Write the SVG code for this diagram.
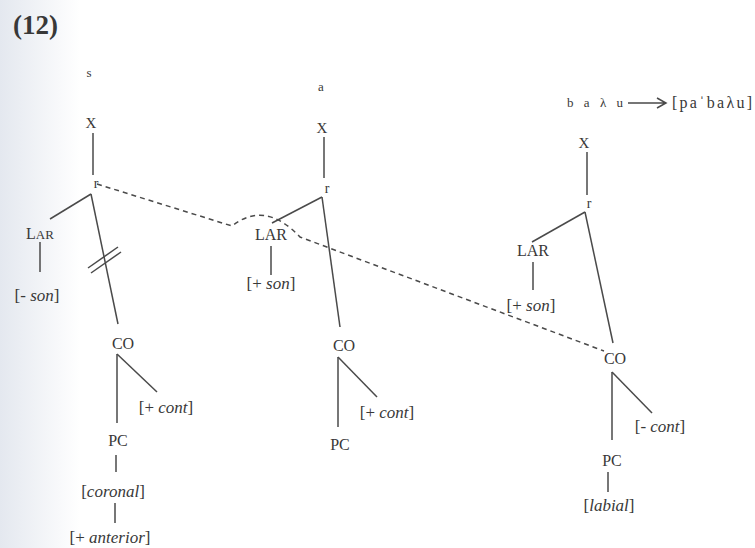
<svg xmlns="http://www.w3.org/2000/svg" width="755" height="548" viewBox="0 0 755 548">
<defs>
<linearGradient id="shade" x1="0" y1="0" x2="1" y2="0">
<stop offset="0" stop-color="#e4e8ef"/>
<stop offset="1" stop-color="#ffffff"/>
</linearGradient>
<style>
text{font-family:"Liberation Serif","Times New Roman",serif;fill:#383838;text-anchor:middle}
.n{font-size:16px}
.x{font-size:15px}
.r{font-size:14px}
.f{font-size:17px}
.s{font-size:13px}
.i{font-style:italic}
.e{stroke:#4a4a4a;stroke-width:1.5;fill:none}
.d{stroke:#4a4a4a;stroke-width:1.5;fill:none;stroke-dasharray:5 4}
</style>
</defs>
<rect width="755" height="548" fill="#ffffff"/>
<rect width="80" height="548" fill="url(#shade)"/>
<text x="13" y="34" style="font-size:27px;font-weight:bold;text-anchor:start">(12)</text>

<g id="formula">
<text x="595" y="107" class="s" textLength="56">b a λ u</text>
<text x="712" y="108" style="font-size:16px" textLength="80">[paˈbaλu]</text>
</g>

<g id="connectors">
<!-- tree 1 -->
<line class="e" x1="93" y1="133" x2="93" y2="175"/>
<line class="e" x1="91" y1="194" x2="50" y2="219"/>
<line class="e" x1="91" y1="194" x2="118" y2="324"/>
<line class="e" x1="88" y1="268" x2="118" y2="247"/>
<line class="e" x1="91" y1="273" x2="121" y2="252"/>
<line class="e" x1="40" y1="242" x2="40" y2="272"/>
<line class="e" x1="117" y1="354" x2="117" y2="423"/>
<line class="e" x1="117" y1="354" x2="157" y2="392"/>
<line class="e" x1="116" y1="455" x2="116" y2="472"/>
<line class="e" x1="115" y1="503" x2="115" y2="523"/>
<!-- tree 2 -->
<line class="e" x1="324" y1="137" x2="324" y2="178"/>
<line class="e" x1="322" y1="197" x2="272" y2="223"/>
<line class="e" x1="322" y1="197" x2="340" y2="327"/>
<line class="e" x1="271" y1="246" x2="271" y2="275"/>
<line class="e" x1="338" y1="357" x2="338" y2="427"/>
<line class="e" x1="338" y1="357" x2="377" y2="397"/>
<!-- tree 3 -->
<line class="e" x1="587" y1="152" x2="587" y2="195"/>
<line class="e" x1="585" y1="212" x2="532" y2="242"/>
<line class="e" x1="585" y1="212" x2="613" y2="343"/>
<line class="e" x1="533" y1="262" x2="533" y2="290"/>
<line class="e" x1="612" y1="372" x2="612" y2="440"/>
<line class="e" x1="612" y1="372" x2="652" y2="413"/>
<line class="e" x1="608" y1="472" x2="608" y2="492"/>
<!-- dashed spreading line -->
<path class="d" d="M97,184 L232,226 Q265,200 300,237 L604,351"/>
<!-- formula arrow -->
<path class="e" d="M628,103 H665 M657,98 L666,103 L657,108"/>
</g>

<g id="t1-s"><text x="89" y="77" class="s">s</text></g>
<g id="t1-X"><text x="91" y="128" class="x">X</text></g>
<g id="t1-r"><text x="96" y="188" class="r">r</text></g>
<g id="t1-LAR"><text x="40" y="239" class="n">L<tspan style="font-size:13px">AR</tspan></text></g>
<g id="t1-son"><text x="37" y="301" class="f">[- <tspan class="i">son</tspan>]</text></g>
<g id="t1-CO"><text x="123" y="349" class="n">CO</text></g>
<g id="t1-cont"><text x="166" y="413" class="f">[+ <tspan class="i">cont</tspan>]</text></g>
<g id="t1-PC"><text x="118" y="446" class="n">PC</text></g>
<g id="t1-coronal"><text x="113" y="497" class="f">[<tspan class="i">coronal</tspan>]</text></g>
<g id="t1-anterior"><text x="110" y="543" class="f">[+ <tspan class="i">anterior</tspan>]</text></g>

<g id="t2-a"><text x="321" y="91" class="s">a</text></g>
<g id="t2-X"><text x="322" y="133" class="x">X</text></g>
<g id="t2-r"><text x="327" y="193" class="r">r</text></g>
<g id="t2-LAR"><text x="271" y="240" class="n">LAR</text></g>
<g id="t2-son"><text x="271" y="289" class="f">[+ <tspan class="i">son</tspan>]</text></g>
<g id="t2-CO"><text x="344" y="351" class="n">CO</text></g>
<g id="t2-cont"><text x="387" y="418" class="f">[+ <tspan class="i">cont</tspan>]</text></g>
<g id="t2-PC"><text x="340" y="450" class="n">PC</text></g>

<g id="t3-X"><text x="584" y="148" class="x">X</text></g>
<g id="t3-r"><text x="589" y="208" class="r">r</text></g>
<g id="t3-LAR"><text x="533" y="256" class="n">LAR</text></g>
<g id="t3-son"><text x="531" y="311" class="f">[+ <tspan class="i">son</tspan>]</text></g>
<g id="t3-CO"><text x="615" y="364" class="n">CO</text></g>
<g id="t3-cont"><text x="660" y="432" class="f">[- <tspan class="i">cont</tspan>]</text></g>
<g id="t3-PC"><text x="612" y="466" class="n">PC</text></g>
<g id="t3-labial"><text x="609" y="511" class="f">[<tspan class="i">labial</tspan>]</text></g>
</svg>
